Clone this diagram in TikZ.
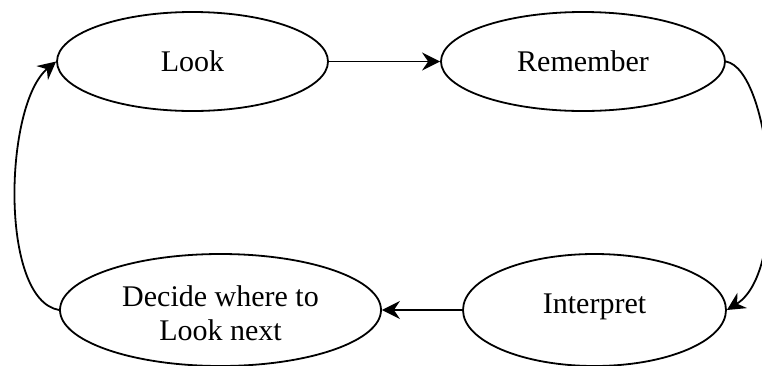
\documentclass[tikz,border=0pt]{standalone}
\usepackage{fontspec}
\setmainfont{Liberation Serif}
\usetikzlibrary{shapes.geometric,arrows.meta}
\begin{document}
\begin{tikzpicture}[x=1pt,y=-1pt,
  state/.style={draw,ellipse,line width=1.8pt,inner sep=0pt,align=center,
    font=\fontsize{30}{34}\selectfont},
  link/.style={line width=1.8pt,-{Stealth[length=18pt,width=18pt,inset=6pt]}}]
\useasboundingbox (0,0) rectangle (762,365);
\node[state,minimum width=271pt,minimum height=99pt] (look) at (192.5,61.5) {Look};
\node[state,minimum width=284pt,minimum height=99pt] (rem) at (583,61.5) {Remember};
\node[state,minimum width=263pt,minimum height=112pt,text height=20.5pt,text depth=14.5pt] (interp) at (594.5,310) {Interpret};
\node[state,minimum width=321pt,minimum height=112pt,text height=60pt,text depth=0pt] (decide) at (220.5,310) {Decide where to\\Look next};
\draw[link] (look.east) -- (rem.west);
\draw[link] (rem.east) .. controls +(45,8) and +(64,-40) .. (interp.east);
\draw[link] (interp.west) -- (decide.east);
\draw[link] (decide.west) .. controls +(-60,-10) and +(-52,43) .. (look.west);
\end{tikzpicture}
\end{document}
